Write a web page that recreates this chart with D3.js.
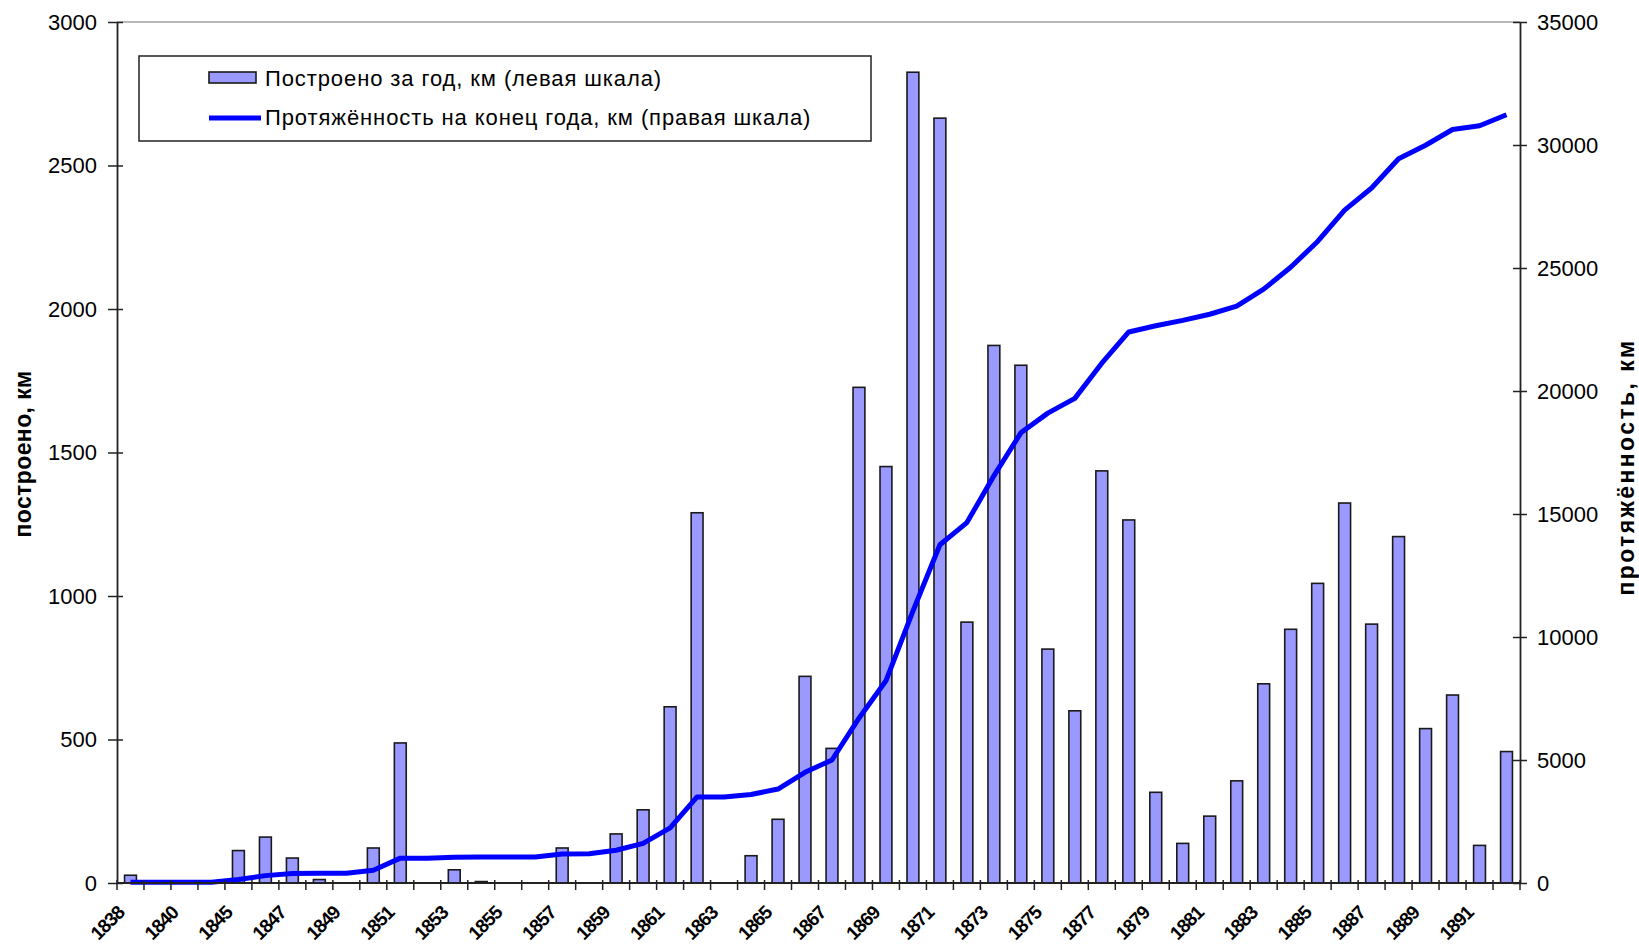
<!DOCTYPE html>
<html>
<head>
<meta charset="utf-8">
<script src="https://cdn.jsdelivr.net/npm/d3@7/dist/d3.min.js"></script>
<style>
  body { margin: 0; background: white; }
  svg text { font-family: "Liberation Sans", Arial, sans-serif; fill: #000; }
</style>
</head>
<body>
<svg id="chart" width="1639" height="945"></svg>
<script>
// years (one hidden category between 1840 and 1845)
let years = ["1838","1839","1840","1844","1845","1846","1847","1848","1849","1850",
  "1851","1852","1853","1854","1855","1856","1857","1858","1859","1860",
  "1861","1862","1863","1864","1865","1866","1867","1868","1869","1870",
  "1871","1872","1873","1874","1875","1876","1877","1878","1879","1880",
  "1881","1882","1883","1884","1885","1886","1887","1888","1889","1890",
  "1891","1892"];

// built per year, km (left axis)
let built = [27,0,0,0,113,160,87,12,0,122,488,0,46,5,0,0,122,0,171,255,
  614,1290,0,95,222,720,469,1727,1451,2825,2665,909,1873,1804,815,600,1436,1265,316,138,
  233,356,694,884,1044,1324,902,1207,538,655,131,458];

// length at the end of year, km (right axis)
let total = [27,27,27,27,140,300,390,400,400,520,1010,1010,1050,1060,1060,1060,1180,1185,1330,1610,
  2240,3500,3500,3600,3820,4500,5000,6700,8220,11050,13750,14650,16550,18300,19100,19700,21130,22400,22650,22870,
  23120,23450,24140,25030,26080,27350,28250,29440,29990,30630,30780,31230];

let leftTicks = [0,500,1000,1500,2000,2500,3000];
let rightTicks = [0,5000,10000,15000,20000,25000,30000,35000];

let legendText = ["Построено за год, км (левая шкала)", "Протяжённость на конец года, км (правая шкала)"];

const svg = d3.select("svg#chart");
const pLeft = 117, pRight = 1520, pTop = 22, pBottom = 883;

let x = d3.scaleBand().domain(years).range([pLeft, pRight]).paddingInner(0.56).paddingOuter(0.28);
let y = d3.scaleLinear().domain([0, 3000]).range([pBottom, pTop]);
let y2 = d3.scaleLinear().domain([0, 35000]).range([pBottom, pTop]);

// top border of plot area
svg.append("line")
  .attr("x1", pLeft).attr("x2", pRight).attr("y1", pTop).attr("y2", pTop)
  .attr("stroke", "#a0a0a0").attr("stroke-width", 1.5);

// bars
svg.selectAll("rect.bar")
  .data(years)
  .enter().append("rect")
  .attr("class", "bar")
  .attr("x", d => x(d))
  .attr("y", (d, i) => y(built[i]))
  .attr("width", x.bandwidth())
  .attr("height", (d, i) => pBottom - y(built[i]))
  .attr("fill", "#9999ff")
  .attr("stroke", "#1a1a1a")
  .attr("stroke-width", 1.6);

// cumulative line
let line = d3.line()
  .x((d, i) => x(years[i]) + x.bandwidth() / 2)
  .y(d => y2(d));

svg.append("path")
  .datum(total)
  .attr("d", line)
  .attr("fill", "none")
  .attr("stroke", "#0000ff")
  .attr("stroke-width", 5)
  .attr("stroke-linejoin", "round");

// left axis
let gl = svg.append("g")
  .attr("transform", "translate(" + pLeft + ",0)")
  .call(d3.axisLeft(y).tickValues(leftTicks).tickFormat(d3.format("d")).tickSize(9).tickPadding(11).tickSizeOuter(0));
gl.selectAll(".tick").append("line").attr("x2", 6);

// right axis
let gr = svg.append("g")
  .attr("transform", "translate(" + pRight + ",0)")
  .call(d3.axisRight(y2).tickValues(rightTicks).tickFormat(d3.format("d")).tickSize(7).tickPadding(10).tickSizeOuter(0));
gr.selectAll(".tick").append("line").attr("x2", -7);

[gl, gr].forEach(g => {
  g.selectAll("text").style("font-size", "22px").style("font-family", "Liberation Sans, Arial, sans-serif");
  g.selectAll("line").attr("stroke", "#222").attr("stroke-width", 1.5);
  g.select(".domain").attr("stroke", "#222").attr("stroke-width", 1.8);
});

// x axis baseline and category ticks
svg.append("line")
  .attr("x1", pLeft).attr("x2", pRight).attr("y1", pBottom).attr("y2", pBottom)
  .attr("stroke", "#222").attr("stroke-width", 1.8);

svg.selectAll("line.xtick")
  .data(years.concat(["end"]))
  .enter().append("line")
  .attr("class", "xtick")
  .attr("x1", (d, i) => pLeft + i * x.step())
  .attr("x2", (d, i) => pLeft + i * x.step())
  .attr("y1", pBottom - 3).attr("y2", pBottom + 7)
  .attr("stroke", "#222").attr("stroke-width", 1.5);

svg.selectAll("text.xlab")
  .data(years.filter((d, i) => i % 2 == 0))
  .enter().append("text")
  .attr("class", "xlab")
  .attr("transform", d => "translate(" + (x(d) + x.bandwidth() / 2 - 5) + "," + 914 + ") rotate(-45)")
  .attr("text-anchor", "end")
  .style("font-size", "19px")
  .style("font-weight", "bold")
  .style("letter-spacing", "-1px")
  .text(d => d);

// axis titles
svg.append("text")
  .attr("transform", "translate(31,454) rotate(-90)")
  .attr("text-anchor", "middle")
  .style("font-size", "23px").style("font-weight", "bold")
  .style("letter-spacing", "0.4px")
  .text("построено, км");

svg.append("text")
  .attr("transform", "translate(1634,467) rotate(-90)")
  .attr("text-anchor", "middle")
  .style("font-size", "23px").style("font-weight", "bold")
  .style("letter-spacing", "2.4px")
  .text("протяжённость, км");

// legend
let lg = svg.append("g");
lg.append("rect")
  .attr("x", 139).attr("y", 56).attr("width", 732).attr("height", 85)
  .attr("fill", "white").attr("stroke", "#222").attr("stroke-width", 1.5);
lg.append("rect")
  .attr("x", 209).attr("y", 72).attr("width", 47).attr("height", 11)
  .attr("fill", "#9999ff").attr("stroke", "#1a1a1a").attr("stroke-width", 1.6);
lg.append("line")
  .attr("x1", 209).attr("x2", 261).attr("y1", 118).attr("y2", 118)
  .attr("stroke", "#0000ff").attr("stroke-width", 5);
lg.selectAll("text")
  .data(legendText)
  .enter().append("text")
  .attr("x", 265)
  .attr("y", (d, i) => 86 + i * 39)
  .style("font-size", "22px")
  .style("letter-spacing", "0.9px")
  .text(d => d);
</script>
</body>
</html>
